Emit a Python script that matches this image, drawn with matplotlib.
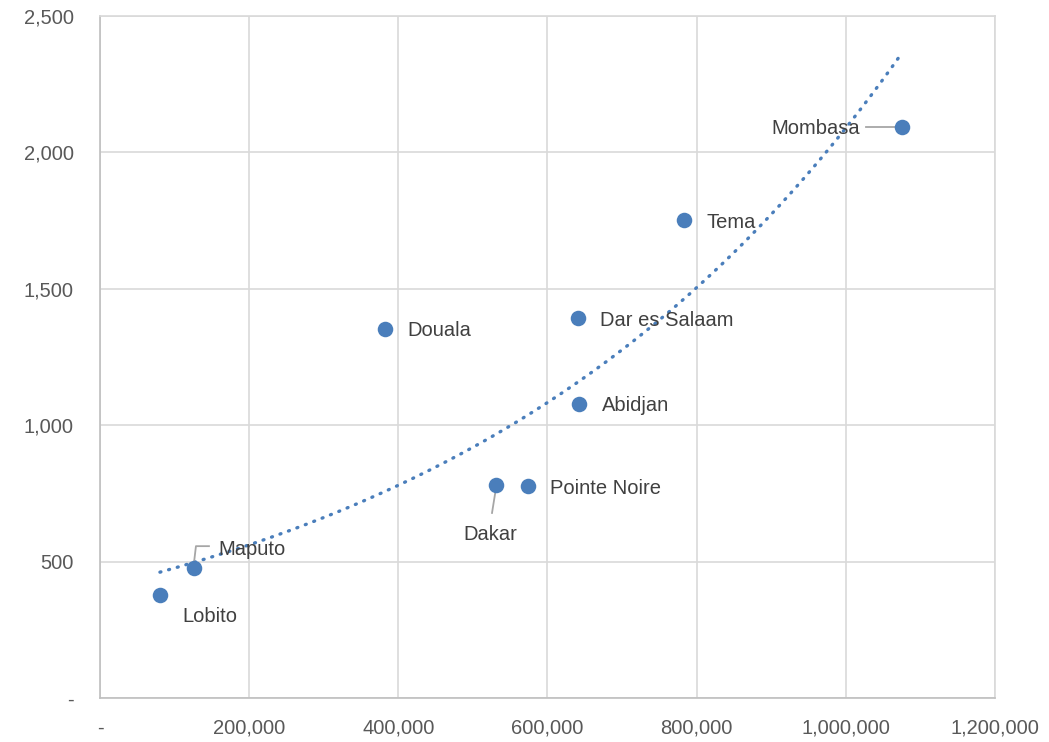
import numpy as np
import matplotlib
matplotlib.use("Agg")
import matplotlib.pyplot as plt
from matplotlib.ticker import FuncFormatter

plt.rcParams['font.family'] = ['Liberation Sans Narrow', 'Liberation Sans', 'DejaVu Sans']

ports = ['Lobito', 'Maputo', 'Douala', 'Dakar', 'Pointe Noire',
         'Dar es Salaam', 'Abidjan', 'Tema', 'Mombasa']
teu = [80400, 126000, 382000, 531000, 574000, 641000, 642000, 783000, 1076000]
cost = [377, 476, 1353, 781, 777, 1393, 1078, 1752, 2093]

# label offsets in pixels (dx, dy) and horizontal alignment
label_pos = {
    'Lobito': (50, -21, 'center'),
    'Maputo': (24, 19, 'left'),
    'Douala': (22, -2, 'left'),
    'Dakar': (-6, -50, 'center'),
    'Pointe Noire': (22, -2, 'left'),
    'Dar es Salaam': (22, -2, 'left'),
    'Abidjan': (23, -2, 'left'),
    'Tema': (23, -2, 'left'),
    'Mombasa': (-42, -1, 'right'),
}

blue = '#4A7EBB'
grid = '#D9D9D9'
txt = '#595959'

fig = plt.figure(figsize=(10.49, 7.42), dpi=100)
ax = fig.add_axes([0.0953, 0.0593, 0.8532, 0.9191])

# exponential trendline (least squares on log of y)
b, a = np.polyfit(teu, np.log(cost), 1)
xt = np.linspace(min(teu), max(teu), 200)
ax.plot(xt, np.exp(a + b * xt), color=blue, lw=2.4, ls=(0, (0.3, 2.4)),
        dash_capstyle='round', zorder=2)

ax.scatter(teu, cost, s=125, color=blue, zorder=3, linewidths=0)

for name, x, y in zip(ports, teu, cost):
    dx, dy, ha = label_pos[name]
    ax.annotate(name, (x, y), xytext=(dx, dy), textcoords='offset pixels',
                ha=ha, va='center', fontsize=14.5, color='#404040',
                family=['Liberation Sans', 'DejaVu Sans'], zorder=4)

# leader lines
def leader(x, y, pts):
    X0, Y0 = ax.transData.transform((x, y))
    px = [X0 + p[0] for p in pts]
    py = [Y0 + p[1] for p in pts]
    inv = ax.transData.inverted()
    d = inv.transform(np.column_stack([px, py]))
    ax.plot(d[:, 0], d[:, 1], color='#A6A6A6', lw=1.3, zorder=2.5)

ax.set_xlim(0, 1200000)
ax.set_ylim(0, 2500)
fig.canvas.draw()
leader(teu[1], cost[1], [(0, 5), (2, 22), (15, 22)])
leader(teu[3], cost[3], [(0, -3), (-4, -28)])
leader(teu[8], cost[8], [(-5, 0), (-36, 0)])

ax.set_xticks(np.arange(0, 1200001, 200000))
ax.set_yticks(np.arange(0, 2501, 500))
fmt = FuncFormatter(lambda v, p: '-' if v == 0 else f'{int(v):,}')
ax.xaxis.set_major_formatter(fmt)
ax.yaxis.set_major_formatter(fmt)
ax.tick_params(length=0, labelsize=14.5, colors=txt)
ax.tick_params(axis='x', pad=15)
ax.tick_params(axis='y', pad=19)
ax.grid(True, color=grid, lw=1.2)
ax.set_axisbelow(True)
for s in ax.spines.values():
    s.set_color(grid)
    s.set_linewidth(1.2)
ax.spines['left'].set_color('#BFBFBF')
ax.spines['bottom'].set_color('#BFBFBF')

fig.savefig('out.png', dpi=100)
